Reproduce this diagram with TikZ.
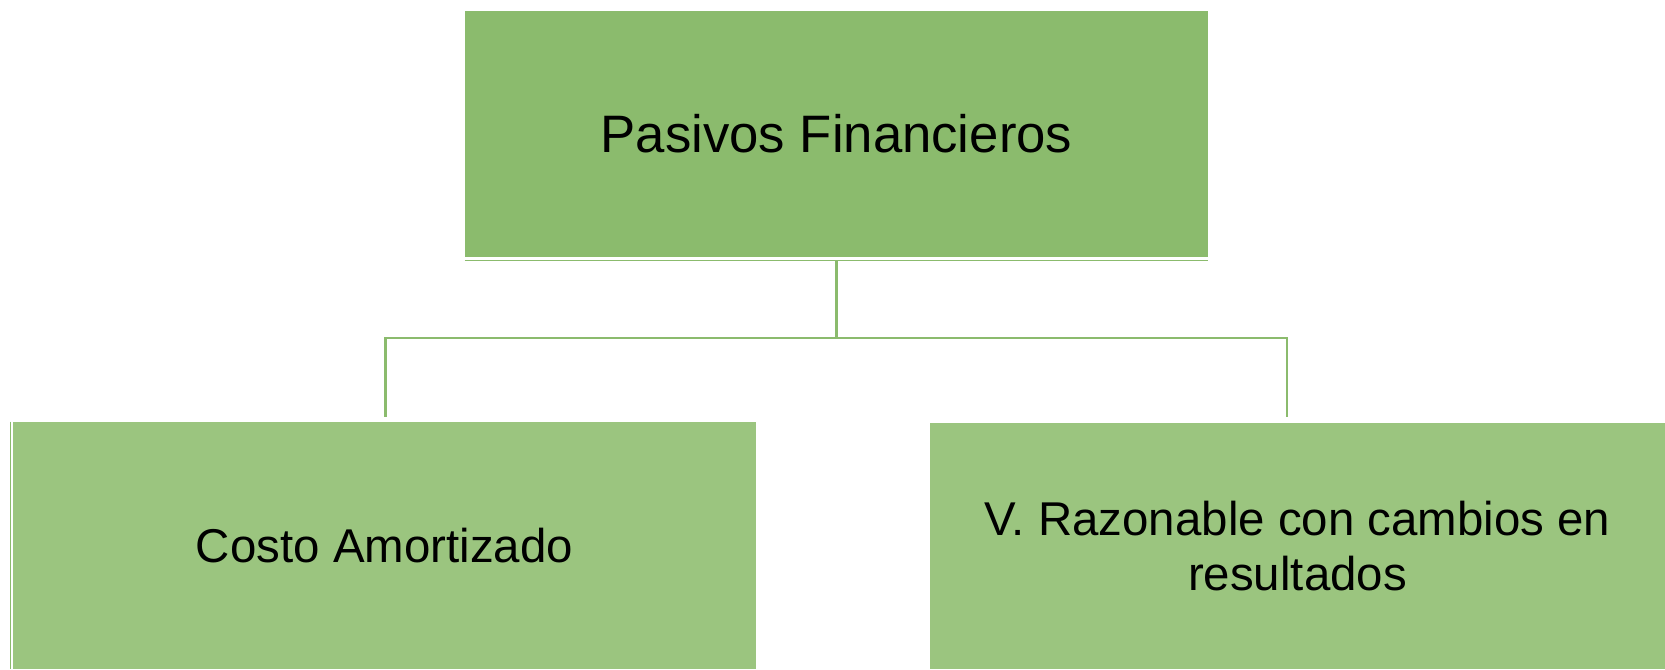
\documentclass[tikz,border=0pt]{standalone}
\usepackage{fontspec}
\setmainfont{Liberation Sans}
\usepackage{xcolor}
\definecolor{topgreen}{RGB}{139,187,109}
\definecolor{subgreen}{RGB}{155,197,127}
\definecolor{linkgreen}{RGB}{139,187,109}

\begin{document}
\begin{tikzpicture}[x=0.02cm, y=-0.02cm,
        topbox/.style={fill=topgreen, minimum width=14.86cm, minimum height=4.93cm, inner sep=0pt, font=\fontsize{30}{34.5}\selectfont},
        subbox/.style={fill=subgreen, minimum height=4.94cm, inner sep=0pt, align=center, font=\fontsize{27}{31.3}\selectfont},
        link/.style={draw=linkgreen, line width=1.6pt},
        edgeline/.style={draw=linkgreen, line width=0.8pt}]
        \useasboundingbox (0,0) rectangle (1665,669);

        % Top box
        \node[topbox] (pasivos) at (836.5,133.8) {Pasivos Financieros};
        \draw[edgeline] ([yshift=-0.06cm]pasivos.south west) -- ([yshift=-0.06cm]pasivos.south east);

        % Lower boxes
        \node[subbox, minimum width=14.86cm] (costo) at (384.5,545.5) {Costo Amortizado};
        \node[subbox, minimum width=14.7cm] (razonable) at (1297.5,546) {V. Razonable con cambios en\\resultados};
        \draw[edgeline, line width=0.5pt] ([xshift=-0.05cm]costo.north west) -- ([xshift=-0.05cm]costo.south west);

        % Connectors
        \coordinate (hub) at (836.5,338);
        \coordinate (costoTop) at (385.7,417);
        \coordinate (razonableTop) at (1287,417);
        \draw[link] ([yshift=-0.06cm]pasivos.south) -- (hub);
        \draw[link] (hub) -| (costoTop);
        \draw[link] (hub) -| (razonableTop);
    \end{tikzpicture}
\end{document}
